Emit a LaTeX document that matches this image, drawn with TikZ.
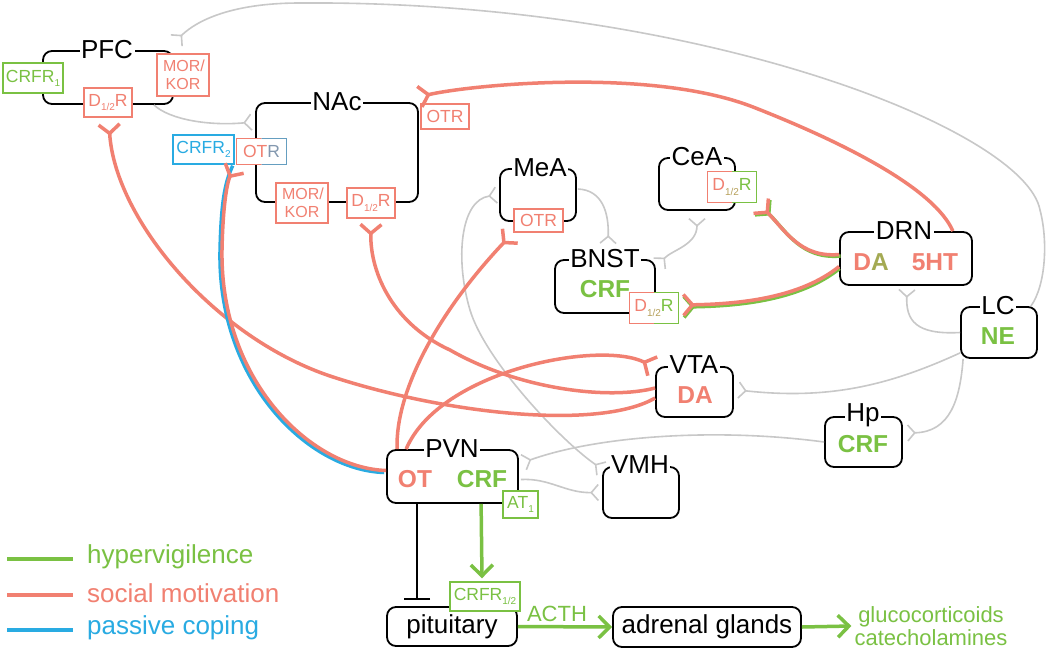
\documentclass[tikz,border=0pt]{standalone}
\usepackage{fontspec}
\setmainfont{Liberation Sans}
\usetikzlibrary{arrows.meta,calc}
\definecolor{pk}{RGB}{241,128,113}
\definecolor{gn}{RGB}{122,193,67}
\definecolor{bl}{RGB}{41,171,226}
\definecolor{gy}{RGB}{200,200,200}
\newcommand\sbx[1]{\raisebox{-0.45ex}{\fontsize{10}{10}\selectfont #1}}
\newcommand\gradborder[3]{%
  \begin{scope}\clip ($(#1.south west)+(-3,3)$) rectangle ($(#1.north)+(0,-3)$);
    \draw[#2,line width=1.4pt] (#1.south west) rectangle (#1.north east);\end{scope}
  \begin{scope}\clip ($(#1.south)+(0,3)$) rectangle ($(#1.north east)+(3,-3)$);
    \draw[#3,line width=1.4pt] (#1.south west) rectangle (#1.north east);\end{scope}}
\tikzset{
  region/.style={draw=black, line width=1.8pt, rounded corners=9pt, inner sep=0pt},
  rlabel/.style={fill=white, inner xsep=1.5pt, inner ysep=0pt, font=\fontsize{26}{26}\selectfont},
  rec/.style={draw, line width=1.4pt, fill=white, inner sep=0pt, align=center, font=\fontsize{17.5}{14}\selectfont},
  rtxt/.style={inner sep=0pt, font=\fontsize{16}{16}\selectfont},
  btext/.style={inner sep=0pt, font=\fontsize{24.5}{26}\selectfont\bfseries},
  gline/.style={draw=gy, line width=1.6pt},
  rline/.style={draw=pk, line width=3.5pt},
  gnline/.style={draw=gn, line width=3.5pt},
  gsyn/.tip={Straight Barb[reversed,length=7pt,width=16pt]},
  rsyn/.tip={Straight Barb[reversed,length=9pt,width=21pt]},
  garr/.tip={Straight Barb[length=11pt,width=22pt]},
  legtext/.style={anchor=west, inner sep=0pt, font=\fontsize{26}{26}\selectfont},
  outtext/.style={inner sep=0pt, text=gn, align=center, font=\fontsize{22}{23}\selectfont}
}
\begin{document}
\begin{tikzpicture}[x=1pt,y=-1pt]
\fill[white] (0,0) rectangle (1050,651);
\useasboundingbox (0,0) rectangle (1050,651);

% ---------- regions ----------
\node[region, minimum width=130pt, minimum height=53pt] (pfc) at (108,77.5) {};
\node[rlabel] (pfcL) at (107,50) {PFC};
\node[region, minimum width=162pt, minimum height=99pt] (nac) at (337,152.5) {};
\node[rlabel] (nacL) at (337,102) {NAc};
\node[region, minimum width=76pt, minimum height=52pt] (mea) at (538,195) {};
\node[rlabel] (meaL) at (540,168) {MeA};
\node[region, minimum width=76pt, minimum height=52pt] (cea) at (697,184) {};
\node[rlabel] (ceaL) at (697,157) {CeA};
\node[region, minimum width=100pt, minimum height=53pt] (bnst) at (605,286.5) {};
\node[rlabel] (bnstL) at (605,259) {BNST};
\node[btext, text=gn] (bnstC) at (605,289) {CRF};
\node[region, minimum width=132pt, minimum height=53pt] (drn) at (906,258.5) {};
\node[rlabel] (drnL) at (904,231) {DRN};
\node[btext] (drnDA) at (871,262) {\textcolor{pk}{D}\textcolor{pk!35!gn}{A}};
\node[btext, text=pk] (drn5) at (935,262) {5HT};
\node[region, minimum width=76pt, minimum height=51pt] (lc) at (999,332.5) {};
\node[rlabel] (lcL) at (998,306) {LC};
\node[btext, text=gn] (lcNE) at (998,336) {NE};
\node[region, minimum width=77pt, minimum height=50pt] (vta) at (694.5,392) {};
\node[rlabel] (vtaL) at (694,365) {VTA};
\node[btext, text=pk] (vtaDA) at (695,395) {DA};
\node[region, minimum width=77pt, minimum height=50pt] (hp) at (863.5,442) {};
\node[rlabel] (hpL) at (863,415) {Hp};
\node[btext, text=gn] (hpC) at (863,444) {CRF};
\node[region, minimum width=131pt, minimum height=53pt] (pvn) at (452.5,476.5) {};
\node[rlabel] (pvnL) at (452,449) {PVN};
\node[btext, text=pk] (pvnOT) at (415,479) {OT};
\node[btext, text=gn] (pvnC) at (482,479) {CRF};
\node[region, minimum width=76pt, minimum height=51pt] (vmh) at (641,492.5) {};
\node[rlabel] (vmhL) at (640,465) {VMH};
\node[region, minimum width=130pt, minimum height=39pt, font=\fontsize{26}{26}\selectfont] (pit) at (452,626.5) {pituitary};
\node[region, minimum width=188pt, minimum height=40pt, font=\fontsize{26}{26}\selectfont] (adr) at (707,627) {adrenal glands};

% ---------- receptors ----------
\node[rec, draw=gn, text=gn, minimum width=60pt, minimum height=30pt] (crfr1) at (33,78) {CRFR\sbx{1}};
\node[rec, draw=pk, text=pk, minimum width=48pt, minimum height=29pt] (pfcR) at (108,102.5) {D\sbx{1/2}R};
\node[rec, draw=pk, minimum width=52pt, minimum height=42pt] (pfcMK) at (183,75) {};
\node[rtxt, text=pk] (pfcMK1) at (184,66) {MOR/};
\node[rtxt, text=pk] (pfcMK2) at (183,84) {KOR};
\node[rec, draw=bl, text=bl, minimum width=61pt, minimum height=29pt] (crfr2) at (203.5,149.5) {CRFR\sbx{2}};
\node[rec, draw=none, minimum width=49pt, minimum height=25pt] (nacOL) at (261.5,151.5) {\textcolor{pk}{OT}\textcolor{pk!45!bl}{R}};
\gradborder{nacOL}{pk}{pk!30!bl}
\node[rec, draw=pk, minimum width=52pt, minimum height=40pt] (nacMK) at (302,203) {};
\node[rtxt, text=pk] (nacMK1) at (303,194) {MOR/};
\node[rtxt, text=pk] (nacMK2) at (302,212) {KOR};
\node[rec, draw=pk, text=pk, minimum width=48pt, minimum height=30pt] (nacR) at (371,203) {D\sbx{1/2}R};
\node[rec, draw=pk, text=pk, minimum width=48pt, minimum height=25pt] (nacOR) at (445,116.5) {OTR};
\node[rec, draw=pk, text=pk, minimum width=49pt, minimum height=23pt] (meaR) at (538.5,220.5) {OTR};
\node[rec, draw=none, minimum width=48pt, minimum height=30pt] (ceaR) at (732,187) {\textcolor{pk}{D}\sbx{\textcolor{pk!50!gn}{1/2}}\textcolor{gn}{R}};
\gradborder{ceaR}{pk}{gn}
\node[rec, draw=none, minimum width=48pt, minimum height=30pt] (bnstR) at (654,308) {\textcolor{pk}{D}\sbx{\textcolor{pk!50!gn}{1/2}}\textcolor{gn}{R}};
\gradborder{bnstR}{pk}{gn}
\node[rec, draw=gn, text=gn, minimum width=35pt, minimum height=27pt] (at1) at (520.5,504.5) {AT\sbx{1}};
\node[rec, draw=gn, text=gn, minimum width=70pt, minimum height=29pt] (crfr12) at (485,596.5) {CRFR\sbx{1/2}};

% ---------- gray connections ----------
\draw[gline,-gsyn] ($(lc.north east)+(-7,0)$) .. controls (1046,285) and (1048,240) .. (1040,210)
   .. controls (1025,130) and (700,0) .. (300,3) .. controls (220,3) and (190,27) .. ($(pfc.north east)+(2,-9)$);
\draw[gline,-gsyn] ($(pfc.south east)+(-20,0)$) .. controls (170,120) and (210,126) .. ($(nac.north west)+(-3,20)$);
\draw[gline,-gsyn] ($(mea.east)+(1,-6)$) .. controls (602,190) and (609,212) .. ($(bnst.north)+(3,-15)$);
\draw[gline,gsyn-gsyn] ($(cea.south)+(0,7)$) .. controls (697,245) and (672,250) .. ($(bnst.north east)+(3,5)$);
\draw[gline,gsyn-gsyn] ($(mea.west)+(-2,0)$) .. controls (460,200) and (455,260) .. (470,310)
   .. controls (485,360) and (560,440) .. ($(vmh.north west)+(0,3)$);
\draw[gline,-gsyn] (hp.west) .. controls (720,428) and (600,435) .. ($(pvn.east)+(4,-14)$);
\draw[gline,-gsyn] ($(pvn.east)+(2,3)$) .. controls (550,478) and (565,493) .. ($(vmh.west)+(-3,0)$);
\draw[gline,-gsyn] ($(lc.south west)+(0,-6)$) .. controls (890,385) and (830,400) .. ($(vta.east)+(4,-2)$);
\draw[gline,-gsyn] ($(lc.south west)+(3,0)$) .. controls (960,400) and (950,432) .. ($(hp.east)+(4,-9)$);
\draw[gline,-gsyn] (lc.west) .. controls (915,335) and (906,320) .. ($(drn.south)+(1,3)$);

% ---------- red / mixed connections ----------
\draw[rline,-rsyn] ($(drn.north east)+(-20,0)$) .. controls (935,190) and (850,145) .. (753,107)
   .. controls (650,67) and (470,85) .. ($(nac.north east)+(-1,-5)$);
\draw[gnline,-rsyn,transform canvas={shift={(1.5pt,-1.5pt)}}] ($(drn.west)+(0,-4)$) .. controls (800,258) and (785,230) .. ($(ceaR.south east)+(3,2)$);
\draw[rline,-rsyn] ($(drn.west)+(0,-4)$) .. controls (800,258) and (785,230) .. ($(ceaR.south east)+(3,2)$);
\draw[gnline,-rsyn,transform canvas={shift={(0.5pt,-2pt)}}] ($(drn.west)+(0,8)$) .. controls (800,298) and (740,304) .. ($(bnstR.east)+(3,-3)$);
\draw[rline,-rsyn] ($(drn.west)+(0,8)$) .. controls (800,298) and (740,304) .. ($(bnstR.east)+(3,-3)$);
\draw[rline,-rsyn] ($(vta.west)+(0,6)$) .. controls (600,430) and (450,415) .. (333,377)
   .. controls (216,339) and (115,220) .. ($(pfcR.south)+(1,5)$);
\draw[rline,-rsyn] ($(vta.west)+(0,-4)$) .. controls (610,400) and (520,390) .. (450,350)
   .. controls (395,325) and (370,275) .. ($(nacR.south)+(0,4)$);
\draw[rline,-rsyn] ($(pvn.north west)+(11,0)$) .. controls (395,390) and (440,310) .. ($(meaR.south west)+(-2,2)$);
\draw[rline,-rsyn] ($(pvn.north west)+(20,0)$) .. controls (440,370) and (600,340) .. ($(vta.north west)+(-1,1)$);
\draw[draw=bl,line width=3.5pt,transform canvas={shift={(-2pt,-2pt)}}] ($(pvn.west)+(0,-6)$) .. controls (310,468) and (220,380) .. (222,250)
   .. controls (223,200) and (227,180) .. ($(crfr2.south east)+(0,-1)$);
\draw[rline,-rsyn] ($(pvn.west)+(0,-6)$) .. controls (310,468) and (220,380) .. (222,250)
   .. controls (223,200) and (228,180) .. ($(nacOL.south west)+(-1,2)$);

% ---------- HPA axis ----------
\draw[line width=1.8pt,-{Bar[width=26pt]}] ($(pvn.south west)+(31,0)$) -- ($(pit.north west)+(31,-6)$);
\draw[gnline,-garr] ($(pvn.south west)+(95,0)$) -- ($(crfr12.north)+(-3,-3)$);
\draw[gnline,-garr] (pit.east) -- (adr.west);
\node[inner sep=0pt, text=gn, font=\fontsize{22}{22}\selectfont] (acth) at (557,614) {ACTH};
\node[outtext] (out) at (931,626) {glucocorticoids\\catecholamines};
\draw[gnline,-garr] (adr.east) -- ($(out.west)+(-3,0)$);

% ---------- legend ----------
\node[legtext, text=gn] (lg1) at (87,557) {hypervigilence};
\node[legtext, text=pk] (lg2) at (87,593) {social motivation};
\node[legtext, text=bl] (lg3) at (87,628) {passive coping};
\draw[gn, line width=4pt] ($(lg1.west)+(-80,2)$) -- ($(lg1.west)+(-14,2)$);
\draw[pk, line width=4pt] ($(lg2.west)+(-80,2)$) -- ($(lg2.west)+(-14,2)$);
\draw[bl, line width=4pt] ($(lg3.west)+(-80,2)$) -- ($(lg3.west)+(-14,2)$);
\end{tikzpicture}
\end{document}
